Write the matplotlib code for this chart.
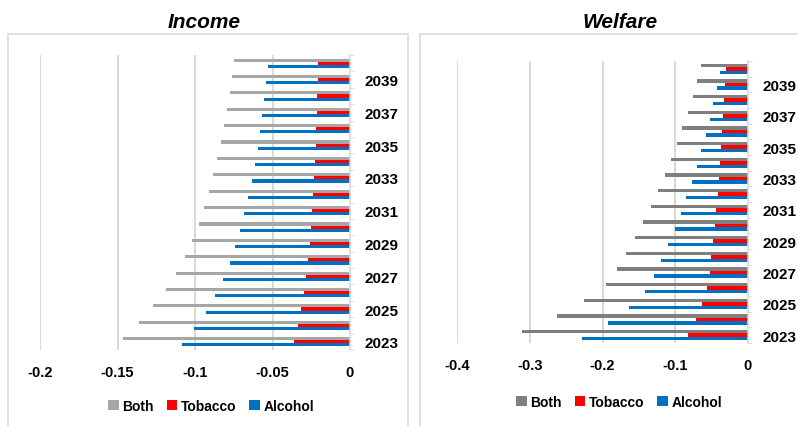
import numpy as np
import matplotlib.pyplot as plt
from matplotlib.patches import Rectangle

plt.rcParams['font.family'] = ['Liberation Sans', 'DejaVu Sans']
plt.rcParams['font.weight'] = 'bold'

# ============================
# Datos
# ============================
years = list(range(2023, 2041))

income_both = [-0.1465, -0.1361, -0.1269, -0.1185, -0.1120, -0.1065, -0.1017, -0.0976, -0.0942,
               -0.0910, -0.0882, -0.0858, -0.0834, -0.0813, -0.0796, -0.0776, -0.0763, -0.0746]
income_tobacco = [-0.0361, -0.0333, -0.0314, -0.0297, -0.0282, -0.0269, -0.0260, -0.0252, -0.0243,
                  -0.0237, -0.0232, -0.0226, -0.0222, -0.0219, -0.0215, -0.0211, -0.0209, -0.0204]
income_alcohol = [-0.1084, -0.1006, -0.0931, -0.0869, -0.0819, -0.0776, -0.0740, -0.0708, -0.0682,
                  -0.0656, -0.0632, -0.0613, -0.0596, -0.0581, -0.0566, -0.0553, -0.0540, -0.0527]

welfare_both = [-0.3101, -0.2624, -0.2252, -0.1950, -0.1807, -0.1679, -0.1555, -0.1440, -0.1335,
                -0.1234, -0.1142, -0.1055, -0.0977, -0.0904, -0.0830, -0.0761, -0.0702, -0.0642]
welfare_tobacco = [-0.0830, -0.0720, -0.0633, -0.0564, -0.0528, -0.0505, -0.0482, -0.0459, -0.0436,
                   -0.0417, -0.0399, -0.0385, -0.0367, -0.0353, -0.0339, -0.0326, -0.0312, -0.0298]
welfare_alcohol = [-0.2284, -0.1927, -0.1638, -0.1413, -0.1298, -0.1193, -0.1096, -0.1009, -0.0927,
                   -0.0849, -0.0775, -0.0706, -0.0642, -0.0583, -0.0528, -0.0477, -0.0427, -0.0381]

income_ticks = [-0.2, -0.15, -0.1, -0.05, 0]
income_ticklabels = ["-0.2", "-0.15", "-0.1", "-0.05", "0"]
welfare_ticks = [-0.4, -0.3, -0.2, -0.1, 0]
welfare_ticklabels = ["-0.4", "-0.3", "-0.2", "-0.1", "0"]

RED = "#FF0000"
BLUE = "#0070C0"
GRID = "#D9D9D9"

fig = plt.figure(figsize=(7.98, 4.27), dpi=100)
W, H = 798, 427

# Marcos de cada panel
for x0, x1 in [(8, 408), (420, 812)]:
    fig.patches.append(Rectangle((x0 / W, -0.05), (x1 - x0) / W, 1.05 - 35 / H,
                                 transform=fig.transFigure, fill=False,
                                 edgecolor=GRID, linewidth=1.2))


def draw_panel(rect, title, title_x, both, tobacco, alcohol, both_color,
               ticks, ticklabels, xlim, bar_h, legend_xy):
    l, t, r, b = rect
    ax = fig.add_axes([l / W, 1 - b / H, (r - l) / W, (b - t) / H])
    y = np.arange(len(years))
    ax.barh(y + bar_h, both, height=bar_h, color=both_color, label="Both")
    ax.barh(y, tobacco, height=bar_h, color=RED, label="Tobacco")
    ax.barh(y - bar_h, alcohol, height=bar_h, color=BLUE, label="Alcohol")

    ax.set_xlim(*xlim)
    ax.set_ylim(-0.5, len(years) - 0.5)
    ax.set_xticks(ticks)
    ax.set_xticklabels(ticklabels, fontsize=10.5, fontweight='bold')
    ax.tick_params(axis='x', length=0, pad=10.5)
    for tx in ticks[:-1]:
        ax.axvline(tx, color=GRID, linewidth=1.5, zorder=0)

    ax.yaxis.tick_right()
    ax.set_yticks(y)
    ax.set_yticklabels([str(yr) if yr % 2 == 1 else "" for yr in years],
                       fontsize=11, fontweight='bold')
    ax.tick_params(axis='y', length=0, pad=10.5)
    ax.set_yticks(np.arange(len(years) + 1) - 0.5, minor=True)
    ax.tick_params(axis='y', which='minor', length=3, color=GRID, direction='out')

    for s in ['top', 'left', 'bottom']:
        ax.spines[s].set_visible(False)
    ax.spines['right'].set_color(GRID)
    ax.spines['right'].set_linewidth(1.2)

    fig.text(title_x / W, 1 - 23 / H, title, ha='center', va='center',
             fontsize=15, fontweight='bold', fontstyle='italic')

    ax.legend(loc='center', bbox_to_anchor=(legend_xy[0] / W, 1 - legend_xy[1] / H),
              bbox_transform=fig.transFigure, ncol=3, frameon=False,
              prop={'size': 10, 'weight': 'bold'}, handlelength=0.75, handleheight=0.75,
              handletextpad=0.25, columnspacing=0.95)
    return ax


draw_panel((40, 56, 350, 351), "Income", 204, income_both, income_tobacco, income_alcohol,
           "#A6A6A6", income_ticks, income_ticklabels, (-0.2, 0), 0.19, (211, 407))
draw_panel((457, 62, 748, 344), "Welfare", 620, welfare_both, welfare_tobacco, welfare_alcohol,
           "#7F7F7F", welfare_ticks, welfare_ticklabels, (-0.4, 0), 0.22, (619, 403))

plt.savefig("out.png", dpi=100)
